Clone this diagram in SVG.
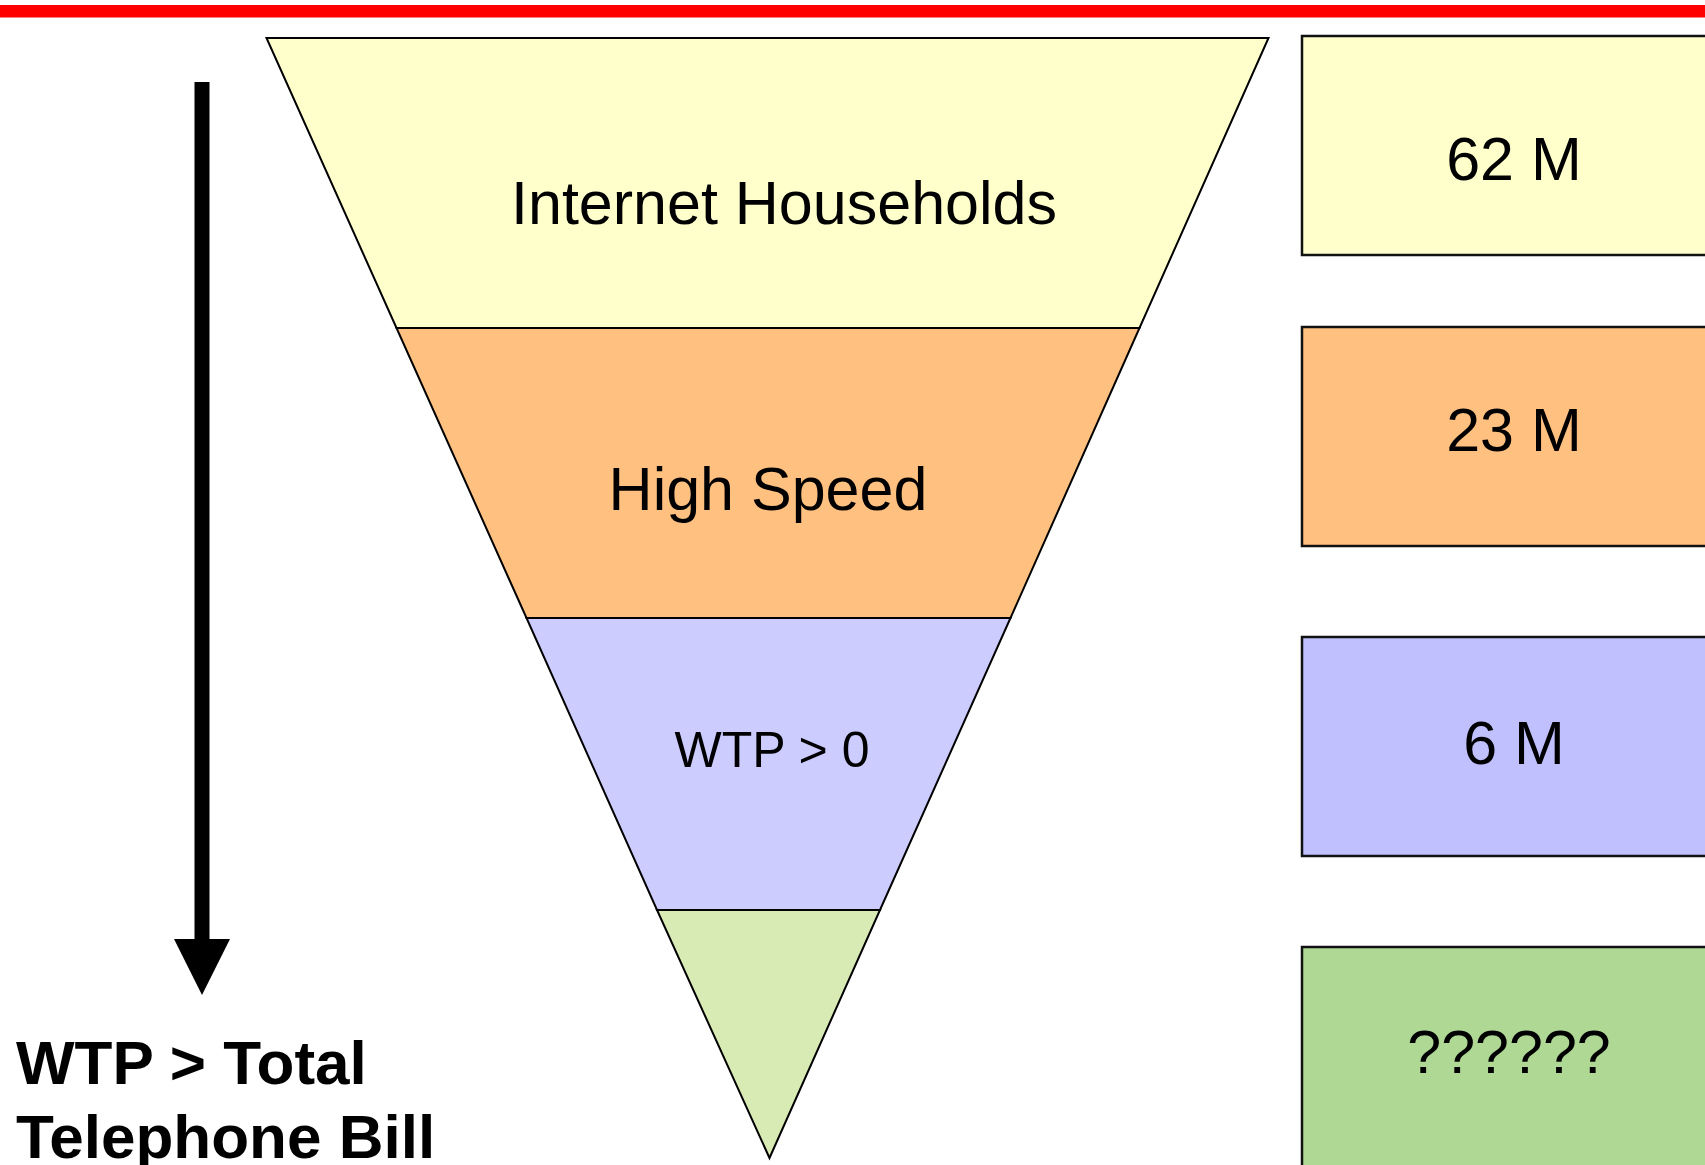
<svg xmlns="http://www.w3.org/2000/svg" width="1705" height="1165" viewBox="0 0 1705 1165">
  <style>
    .band { stroke: #000; stroke-width: 2; stroke-linejoin: miter; }
    .box { stroke: #111; stroke-width: 2.5; }
    .lbl { font-family: "Liberation Sans", Arial, sans-serif; font-size: 61px; fill: #000; text-anchor: middle; }
    .side { font-family: "Liberation Sans", Arial, sans-serif; font-size: 62px; font-weight: bold; fill: #000; }
  </style>
  <defs>
    <marker id="ah" markerUnits="userSpaceOnUse" markerWidth="56" markerHeight="56" refX="0" refY="28" orient="auto" viewBox="0 0 56 56">
      <path d="M0,0 L56,28 L0,56 Z" fill="#000"/>
    </marker>
  </defs>
  <rect x="0" y="0" width="1705" height="1165" fill="#fff"/>
  <rect id="topbar" x="0" y="5" width="1705" height="12.5" fill="#FF0000"/>

  <g id="band-internet">
    <polygon class="band" fill="#FFFFCC" points="266.5,38 1268.5,38 1139.5,328 396.5,328"/>
    <text class="lbl" x="784" y="224">Internet Households</text>
  </g>
  <g id="band-highspeed">
    <polygon class="band" fill="#FFC080" points="396.5,328 1139.5,328 1010.5,618 526.5,618"/>
    <text class="lbl" x="768" y="510">High Speed</text>
  </g>
  <g id="band-wtp">
    <polygon class="band" fill="#CCCCFF" points="526.5,618 1010.5,618 880,910 657,910"/>
    <text class="lbl" x="772" y="767" style="font-size:50px">WTP &gt; 0</text>
  </g>
  <g id="band-total">
    <polygon class="band" fill="#D9EBB5" points="657,910 880,910 769.5,1158"/>
  </g>

  <g id="box-62m">
    <rect class="box" x="1302" y="36" width="430" height="219" fill="#FFFFCC"/>
    <text class="lbl" x="1514" y="180">62 M</text>
  </g>
  <g id="box-23m">
    <rect class="box" x="1302" y="327" width="430" height="219" fill="#FFC080"/>
    <text class="lbl" x="1514" y="451">23 M</text>
  </g>
  <g id="box-6m">
    <rect class="box" x="1302" y="637" width="430" height="219" fill="#C0C0FF"/>
    <text class="lbl" x="1514" y="764">6 M</text>
  </g>
  <g id="box-unknown">
    <rect class="box" x="1302" y="947" width="430" height="240" fill="#AFD895"/>
    <text class="lbl" x="1509" y="1073">??????</text>
  </g>

  <g id="connectors">
    <line x1="202" y1="82" x2="202" y2="939" stroke="#000" stroke-width="15" marker-end="url(#ah)"/>
  </g>

  <g id="label-wtp-total">
    <text class="side" x="16" y="1084">WTP &gt; Total</text>
    <text class="side" x="16" y="1158">Telephone Bill</text>
  </g>
</svg>
